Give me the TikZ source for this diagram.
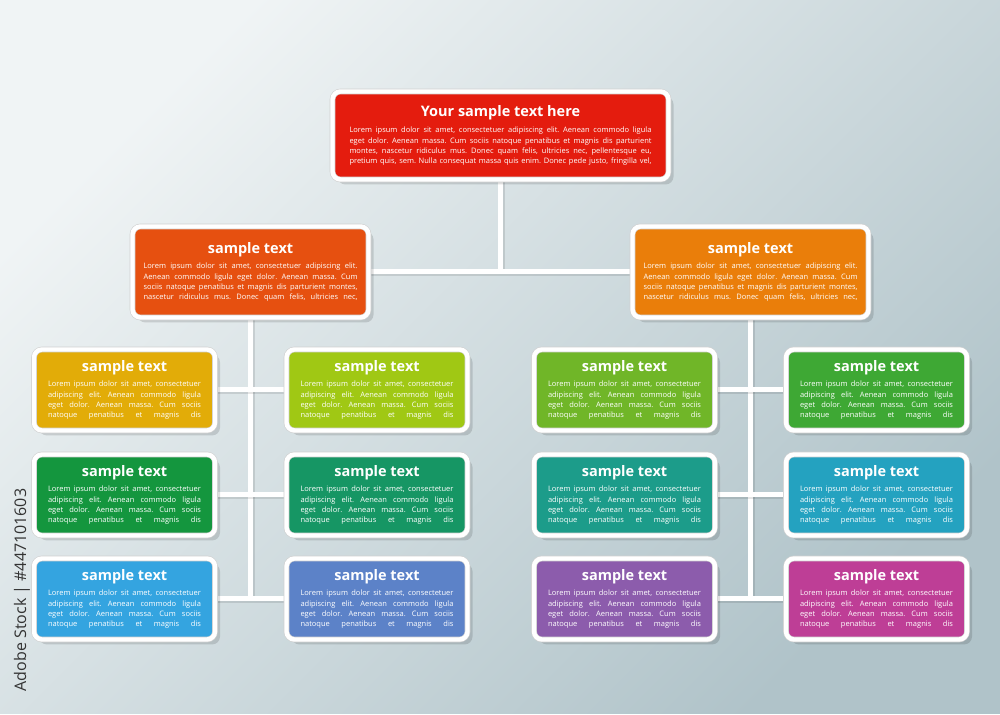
\documentclass[tikz,border=0pt]{standalone}
\usepackage{fontspec}
\setmainfont{Open Sans}
\usetikzlibrary{shadows}
\frenchspacing
%colori
\definecolor{rosso}{RGB}{228,28,14}
\definecolor{arancioscuro}{RGB}{230,80,16}
\definecolor{arancio}{RGB}{234,126,10}
\definecolor{giallo}{RGB}{226,172,8}
\definecolor{lime}{RGB}{160,200,20}
\definecolor{verdechiaro}{RGB}{112,182,40}
\definecolor{verde}{RGB}{62,168,52}
\definecolor{verdescuro}{RGB}{20,150,62}
\definecolor{smeraldo}{RGB}{22,150,100}
\definecolor{verdeacqua}{RGB}{28,156,138}
\definecolor{ciano}{RGB}{36,162,192}
\definecolor{azzurro}{RGB}{52,164,224}
\definecolor{blu}{RGB}{92,130,200}
\definecolor{viola}{RGB}{140,92,172}
\definecolor{magenta}{RGB}{190,62,150}
\definecolor{fondochiaro}{RGB}{240,244,245}
\definecolor{fondoscuro}{RGB}{176,195,201}
%testi
\newcommand{\corpo}{\fontsize{7.5}{10.4}\selectfont}
\newcommand{\titolo}{\fontsize{14.5}{16}\selectfont\bfseries}
\newcommand{\riga}[1]{\makebox[\linewidth][s]{#1}\par}
\newcommand{\testoprincipale}{%
  \begin{minipage}{302pt}\centering{\fontsize{14.5}{16}\selectfont\bfseries Your sample text here\par}\vspace{6pt}\corpo
  \riga{Lorem ipsum dolor sit amet, consectetuer adipiscing elit. Aenean commodo ligula}
  \riga{eget dolor. Aenean massa. Cum sociis natoque penatibus et magnis dis parturient}
  \riga{montes, nascetur ridiculus mus. Donec quam felis, ultricies nec, pellentesque eu,}
  \riga{pretium quis, sem. Nulla consequat massa quis enim. Donec pede justo, fringilla vel,}
  \end{minipage}}
\newcommand{\testoramo}{%
  \begin{minipage}{214pt}\centering{\titolo sample text\par}\vspace{5pt}\corpo
  \riga{Lorem ipsum dolor sit amet, consectetuer adipiscing elit.}
  \riga{Aenean commodo ligula eget dolor. Aenean massa. Cum}
  \riga{sociis natoque penatibus et magnis dis parturient montes,}
  \riga{nascetur ridiculus mus. Donec quam felis, ultricies nec,}
  \end{minipage}}
\newcommand{\testofoglia}{%
  \begin{minipage}{153pt}\centering{\titolo sample text\par}\vspace{5pt}\corpo
  \riga{Lorem ipsum dolor sit amet, consectetuer}
  \riga{adipiscing elit. Aenean commodo ligula}
  \riga{eget dolor. Aenean massa. Cum sociis}
  \riga{natoque penatibus et magnis dis}
  \end{minipage}}
\pgfdeclarelayer{sfondo}
\pgfdeclarelayer{linee}
\pgfsetlayers{sfondo,linee,main}
\tikzset{
  riquadro/.style={rounded corners=8pt, fill=#1, draw=black!18, double=white,
    double distance=4.4pt, line width=0.6pt, text=white, inner sep=0pt,
    drop shadow={shadow xshift=5pt, shadow yshift=-5pt, fill=black, opacity=.13}},
  foglia/.style={riquadro=#1, minimum width=181pt, minimum height=81pt},
  ramo/.style={riquadro=#1, minimum width=236pt, minimum height=91pt},
  capo/.style={riquadro=#1, minimum width=336pt, minimum height=88pt},
  connettore/.style={draw=white, line width=5pt,
    preaction={draw=black, opacity=.1, line width=5pt, transform canvas={shift={(2pt,-2pt)}}}}
}
\begin{document}
\begin{tikzpicture}[x=1pt,y=1pt]
        \useasboundingbox (0,0) rectangle (1000,714);
        %sfondo
        \begin{pgfonlayer}{sfondo}
        \shade[top color=fondochiaro, bottom color=fondoscuro, shading angle=45] (0,0) rectangle (1000,714);
        \end{pgfonlayer}
        %riquadro principale
        \node[capo=rosso] (principale) at (500.5,578.5) {\testoprincipale};
        %secondo livello
        \node[ramo=arancioscuro] (sx) at (250.5,442) {\testoramo};
        \node[ramo=arancio] (dx) at (750.5,442) {\testoramo};
        %terzo livello
        \foreach \nome/\px/\py/\col in {a1/124.5/324/giallo, a2/124.5/219/verdescuro, a3/124.5/115/azzurro,
                                        b1/377/324/lime, b2/377/219/smeraldo, b3/377/115/blu,
                                        c1/624.5/324/verdechiaro, c2/624.5/219/verdeacqua, c3/624.5/115/viola,
                                        d1/876.5/324/verde, d2/876.5/219/ciano, d3/876.5/115/magenta}
            \node[foglia=\col] (\nome) at (\px,\py) {\testofoglia};
        %linee
        \begin{pgfonlayer}{linee}
        \draw[connettore] (principale.south) -- (principale.south |- sx.east);
        \draw[connettore] (sx.east) -- (dx.west);
        \draw[connettore] (sx.south) -- (sx.south |- a3.east);
        \draw[connettore] (dx.south) -- (dx.south |- c3.east);
        \foreach \i in {1,2,3}{
            \draw[connettore] (a\i.east) -- (b\i.west);
            \draw[connettore] (c\i.east) -- (d\i.west);}
        \end{pgfonlayer}
        %marchio
        \node[rotate=90, text=black!80, font=\fontsize{16}{18}\selectfont] (marchio) at (22,124) {Adobe Stock | \#447101603};
    \end{tikzpicture}
\end{document}
